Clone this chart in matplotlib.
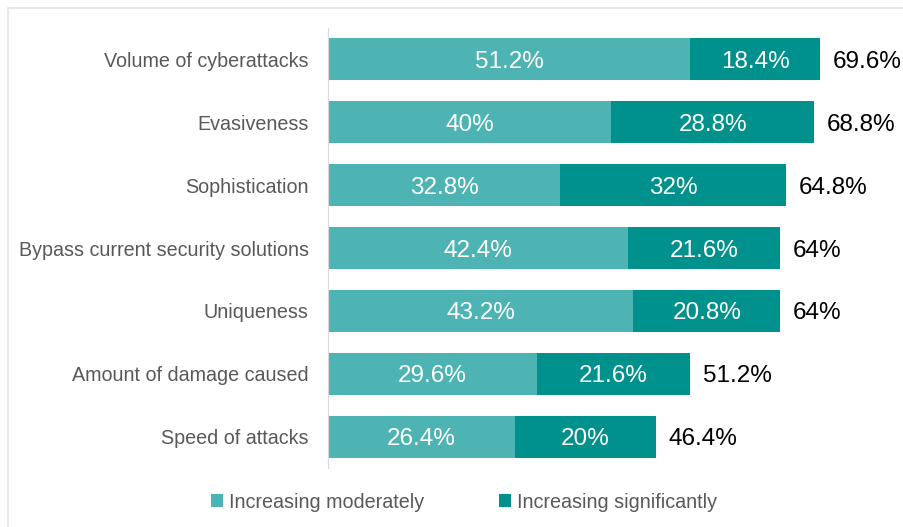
import matplotlib
matplotlib.use("Agg")
import matplotlib.pyplot as plt
from matplotlib.patches import Rectangle

categories = ["Volume of cyberattacks", "Evasiveness", "Sophistication",
              "Bypass current security solutions", "Uniqueness",
              "Amount of damage caused", "Speed of attacks"]
moderate = [51.2, 40, 32.8, 42.4, 43.2, 29.6, 26.4]
significant = [18.4, 28.8, 32, 21.6, 20.8, 21.6, 20]
totals = ["69.6%", "68.8%", "64.8%", "64%", "64%", "51.2%", "46.4%"]
mod_labels = ["51.2%", "40%", "32.8%", "42.4%", "43.2%", "29.6%", "26.4%"]
sig_labels = ["18.4%", "28.8%", "32%", "21.6%", "20.8%", "21.6%", "20%"]
series_names = ["Increasing moderately", "Increasing significantly"]

c_mod = "#4DB3B3"
c_sig = "#00918D"

plt.rcParams['font.family'] = ['Liberation Sans', 'DejaVu Sans']

fig = plt.figure(figsize=(9.04, 5.27), dpi=100)
fig.patches.append(Rectangle((8/904, -0.01), 1, 1 - 8/527 + 0.01, transform=fig.transFigure,
                             fill=False, edgecolor="#E4E4E4", linewidth=1.2))
ax = fig.add_axes([328/904, 59/527, (904-328)/904, (468-28)/527])

y = list(range(len(categories)))
b1 = ax.barh(y, moderate, height=0.67, color=c_mod, label=series_names[0])
b2 = ax.barh(y, significant, left=moderate, height=0.67, color=c_sig, label=series_names[1])

dy = 0.04
for i in y:
    ax.text(moderate[i] / 2, i + dy, mod_labels[i], ha="center", va="center",
            color="white", fontsize=17.5)
    ax.text(moderate[i] + significant[i] / 2, i + dy, sig_labels[i], ha="center", va="center",
            color="white", fontsize=17.5)
    ax.text(moderate[i] + significant[i] + 1.8, i + dy, totals[i], ha="left", va="center",
            color="black", fontsize=17.5)

ax.set_yticks(y)
ax.set_yticklabels(categories, fontsize=14.2, color="#595959")
ax.set_ylim(6.5, -0.5)
ax.set_xlim(0, (904 - 328) / 7.07)
ax.tick_params(axis="y", length=0, pad=14)
ax.set_xticks([])
for s in ["top", "right", "bottom"]:
    ax.spines[s].set_visible(False)
ax.spines["left"].set_color("#D9D9D9")

fig.legend(handles=[b1, b2], labels=series_names, loc="center",
           bbox_to_anchor=(464/904, 1 - 502/527), ncol=2, frameon=False,
           fontsize=14.2, labelcolor="#595959", handlelength=0.6, handleheight=0.6,
           handletextpad=0.3, columnspacing=3.8)

fig.savefig("out.png", dpi=100)
